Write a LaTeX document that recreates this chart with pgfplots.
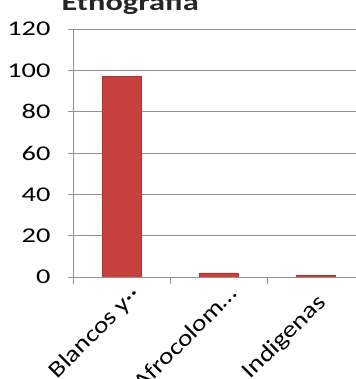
\documentclass[border=0pt]{standalone}
\usepackage{pgfplots}
\pgfplotsset{compat=1.18}
\usepackage{fontspec}
\setmainfont{Carlito}
\newfontfamily\wide[FakeStretch=1.35]{Carlito}
\newfontfamily\widex[FakeStretch=1.2]{Carlito}
\definecolor{barred}{RGB}{200,64,60}
\definecolor{gridgray}{RGB}{145,145,145}
\begin{document}
\begin{tikzpicture}
\begin{axis}[
  at={(73pt,102pt)}, anchor=south west,
  scale only axis,
  width=291pt, height=248pt,
  ymin=0, ymax=120, ytick={0,20,...,120},
  xmin=-0.5, xmax=2.5,
  xtick={0,1,2},
  xticklabels={Blancos y\textperiodcentered\textperiodcentered, Afrocolom\dots, Indigenas\hspace*{12pt}},
  minor xtick={-0.5,0.5,1.5,2.5},
  x tick label style={rotate=45, anchor=north east, font=\widex\fontsize{23}{23}\selectfont, xshift=8pt, yshift=-4pt},
  y tick label style={font=\wide\fontsize{21}{21}\selectfont, xshift=-14pt},
  /pgf/number format/assume math mode=true,
  ymajorgrids,
  grid style={gridgray, line width=0.9pt},
  axis x line*=bottom, axis y line*=left,
  axis line style={gridgray, line width=0.9pt},
  major x tick style={draw=none},
  minor x tick style={gridgray, line width=0.9pt},
  ytick style={gridgray, line width=0.9pt},
  tick align=outside,
  major tick length=5pt,
  minor tick length=7pt,
  ybar, bar width=0.4,
]
\addplot[fill=barred, draw=barred!85!black] coordinates {(0,97) (1,2) (2,0.7)};
\end{axis}
\node[anchor=base west, font=\wide\fontsize{24}{24}\selectfont\bfseries, text=black!85] at (58pt,368pt) {Etnografía};
\pgfresetboundingbox
\useasboundingbox (0,0) rectangle (355pt,379pt);
\end{tikzpicture}
\end{document}
